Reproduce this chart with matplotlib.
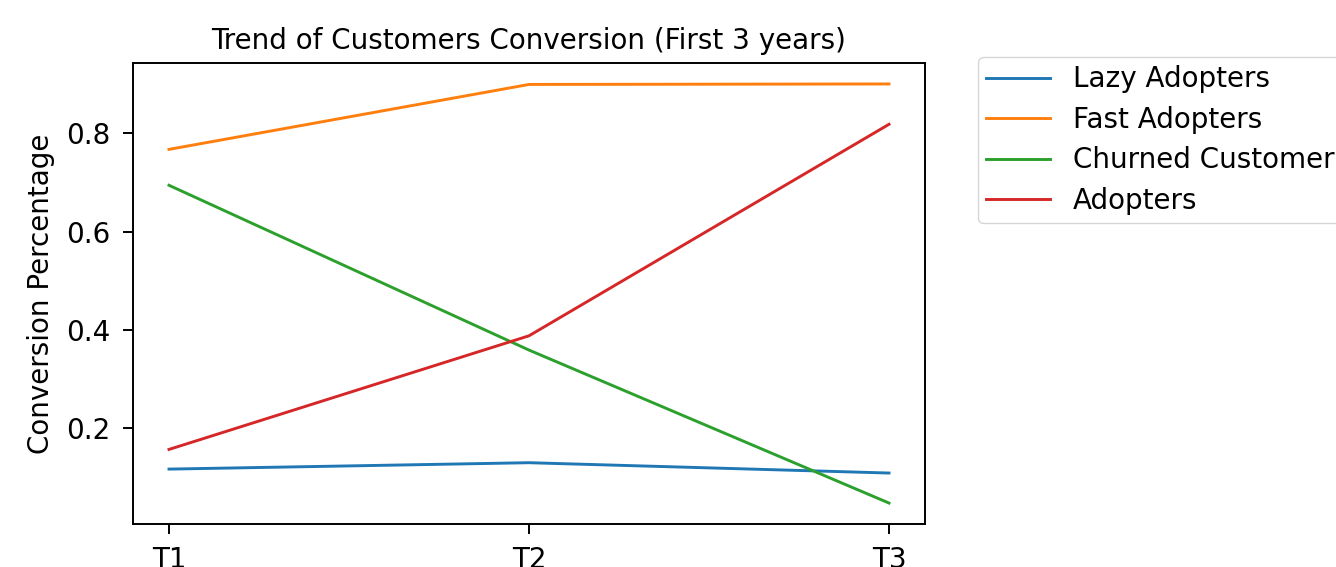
import matplotlib
matplotlib.use("Agg")
from matplotlib import pyplot as plt

# Periods and conversion shares
periods = ["T1", "T2", "T3"]
lazy_adopters = [0.117, 0.130, 0.109]
fast_adopters = [0.767, 0.899, 0.900]
churned_customers = [0.694, 0.359, 0.048]
adopters = [0.157, 0.388, 0.818]

FS = 20

fig = plt.figure(figsize=(13.36, 5.67), dpi=100)
ax = fig.add_axes([133 / 1336, 1 - 524 / 567, 792 / 1336, 461 / 567])

ax.plot(periods, lazy_adopters, label="Lazy Adopters", linewidth=2.1)
ax.plot(periods, fast_adopters, label="Fast Adopters", linewidth=2.1)
ax.plot(periods, churned_customers, label="Churned Customers", linewidth=2.1)
ax.plot(periods, adopters, label="Adopters", linewidth=2.1)

ax.set_title("Trend of Customers Conversion (First 3 years)", fontsize=FS, pad=10)
ax.set_ylabel("Conversion Percentage", fontsize=FS, labelpad=8)
ax.set_yticks([0.2, 0.4, 0.6, 0.8])
ax.tick_params(labelsize=FS, length=7, width=1.4, pad=9)
for spine in ax.spines.values():
    spine.set_linewidth(1.4)

ax.legend(loc="upper left", bbox_to_anchor=(1.067, 1.013), borderaxespad=0,
          fontsize=FS, handlelength=2.3, borderpad=0.3, labelspacing=0.45)

fig.savefig("out.png", dpi=100)
